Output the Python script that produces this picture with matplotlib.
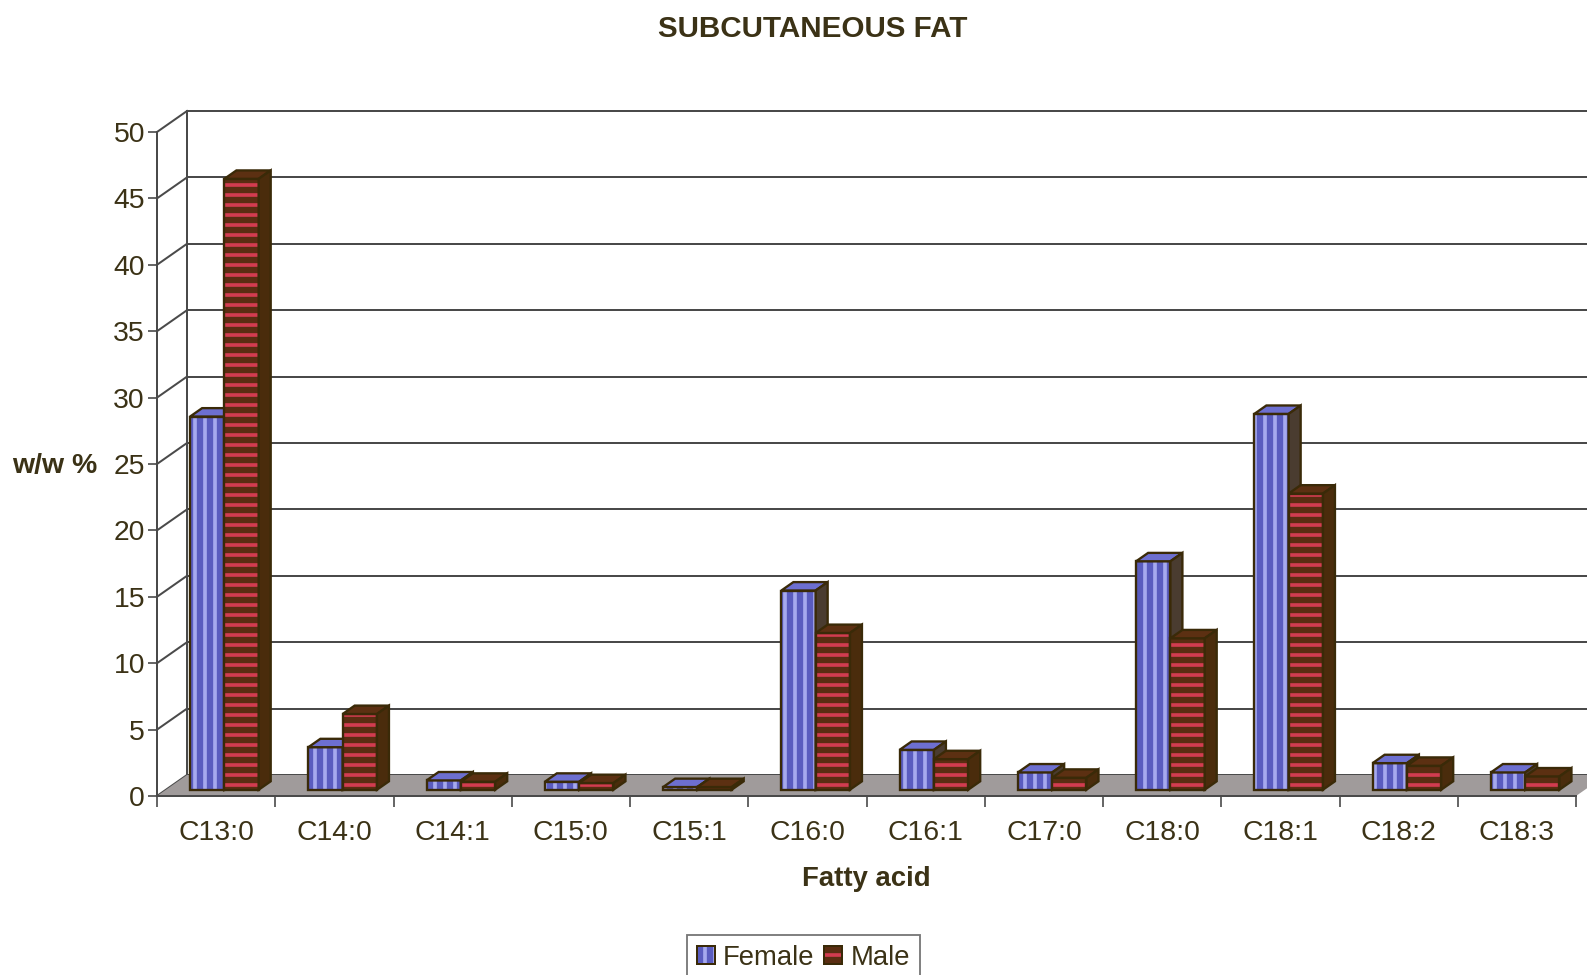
import matplotlib
matplotlib.use("Agg")
import matplotlib.pyplot as plt
from matplotlib.patches import Polygon, Rectangle
from matplotlib.legend_handler import HandlerTuple

# ---- data -------------------------------------------------------------
categories = ["C13:0", "C14:0", "C14:1", "C15:0", "C15:1", "C16:0",
              "C16:1", "C17:0", "C18:0", "C18:1", "C18:2", "C18:3"]
female = [28.1, 3.2, 0.7, 0.6, 0.2, 15.0, 3.0, 1.3, 17.2, 28.3, 2.0, 1.3]
male = [46.0, 5.7, 0.6, 0.5, 0.2, 11.8, 2.3, 0.9, 11.4, 22.3, 1.8, 1.0]
y_ticks = [0, 5, 10, 15, 20, 25, 30, 35, 40, 45, 50]
series_names = ["Female", "Male"]
title_text = "SUBCUTANEOUS FAT"
x_title = "Fatty acid"
y_title = "w/w %"

# ---- style ------------------------------------------------------------
DPI = 120
W_PX, H_PX = 1587, 975
TEXT = "#3b3216"
GRID = "#4a4a4a"
FLOOR = "#a09b9b"
OUTLINE = "#3a2a08"
F_FACE, F_HATCH, F_TOP, F_SIDE = "#5a5cbf", "#a6a9ee", "#6d6fd0", "#4a3c30"
M_FACE, M_HATCH, M_TOP, M_SIDE = "#5a2d12", "#d23c50", "#5c3012", "#4a2c0c"

plt.rcParams["font.family"] = ["Liberation Sans", "DejaVu Sans"]
plt.rcParams["hatch.linewidth"] = 2.2

fig = plt.figure(figsize=(W_PX / DPI, H_PX / DPI), dpi=DPI)
fig.patch.set_facecolor("white")

# front plane of the 3-D box
ax_left, ax_right = 157, 1576
ax_bottom, ax_top = 796, 132
ax = fig.add_axes([ax_left / W_PX, 1 - ax_bottom / H_PX,
                   (ax_right - ax_left) / W_PX, (ax_bottom - ax_top) / H_PX])
ax.set_facecolor("none")
n = len(categories)
ymax = y_ticks[-1]
ax.set_xlim(0, n)
ax.set_ylim(0, ymax)

# depth vector of the box (pixels -> data units)
depth_px = (30, 21)
DX = depth_px[0] * n / (ax_right - ax_left)
DY = depth_px[1] * ymax / (ax_bottom - ax_top)

# floor
ax.add_patch(Polygon([(0, 0), (n, 0), (n + DX, DY), (DX, DY)], closed=True,
                     facecolor=FLOOR, edgecolor="none", zorder=1, clip_on=False))

# back wall gridlines, left wall diagonals
for v in y_ticks:
    ax.plot([DX, n + DX + 1], [v + DY, v + DY], color=GRID, lw=1.2,
            zorder=0.5, clip_on=False)
    ax.plot([0, DX], [v, v + DY], color=GRID, lw=1.2, zorder=0.5, clip_on=False)
ax.plot([DX, DX], [DY, ymax + DY], color=GRID, lw=1.2, zorder=0.5, clip_on=False)

# bars
front_f, bar_depth = 0.3, 0.4
bar_w = 0.29
ox, oy = front_f * DX, front_f * DY
dx, dy = bar_depth * DX, bar_depth * DY
centers = [i + 0.5 for i in range(n)]

z = 2
for i, c in enumerate(centers):
    for s, (vals, face, hatch_c, hatch, top_c, side_c) in enumerate([
            (female, F_FACE, F_HATCH, "||", F_TOP, F_SIDE),
            (male, M_FACE, M_HATCH, "--", M_TOP, M_SIDE)]):
        v = vals[i]
        x0 = c + ox - bar_w + s * bar_w - 0.006
        x1 = x0 + bar_w
        b = oy
        t = oy + v
        ax.bar(x0, v, width=bar_w, bottom=b, align="edge", color=face,
               edgecolor=hatch_c, hatch=hatch, linewidth=0, zorder=z, clip_on=False)
        ax.bar(x0, v, width=bar_w, bottom=b, align="edge", fill=False,
               edgecolor=OUTLINE, linewidth=1.4, zorder=z + 0.1, clip_on=False)
        ax.add_patch(Polygon([(x0, t), (x1, t), (x1 + dx, t + dy), (x0 + dx, t + dy)],
                             closed=True, facecolor=top_c, edgecolor=OUTLINE,
                             linewidth=1.4, zorder=z + 0.2, clip_on=False))
        ax.add_patch(Polygon([(x1, b), (x1, t), (x1 + dx, t + dy), (x1 + dx, b + dy)],
                             closed=True, facecolor=side_c, edgecolor=OUTLINE,
                             linewidth=1.4, zorder=z + 0.2, clip_on=False))
        z += 1

# axes, ticks and labels
for sp in ["top", "right"]:
    ax.spines[sp].set_visible(False)
for sp in ["left", "bottom"]:
    ax.spines[sp].set_color(GRID)
    ax.spines[sp].set_linewidth(1.2)
    ax.spines[sp].set_zorder(50)

ax.set_yticks(y_ticks)
ax.set_yticklabels([str(v) for v in y_ticks])
ax.tick_params(axis="y", direction="out", length=5.4, width=1.0, color=GRID,
               pad=1.8, labelsize=17, labelcolor=TEXT)
ax.set_xticks(range(n + 1))
ax.set_xticklabels([""] * (n + 1))
ax.set_xticks(centers, minor=True)
ax.set_xticklabels(categories, minor=True)
ax.tick_params(axis="x", which="major", direction="out", length=6.6, width=1.0,
               color=GRID)
ax.tick_params(axis="x", which="minor", length=0, pad=14.5, labelsize=17,
               labelcolor=TEXT)

ax.set_ylabel(y_title, rotation=0, fontsize=17, fontweight="bold", color=TEXT,
              ha="left", va="center")
ax.yaxis.set_label_coords((12 - ax_left) / (ax_right - ax_left),
                          (ax_bottom - 466) / (ax_bottom - ax_top))
ax.set_xlabel(x_title, fontsize=16.5, fontweight="bold", color=TEXT,
              va="center")
ax.xaxis.set_label_coords((866 - ax_left) / (ax_right - ax_left),
                          (ax_bottom - 879) / (ax_bottom - ax_top))

fig.text(813 / W_PX, 1 - 29 / H_PX, title_text, ha="center", va="center",
         fontsize=17.8, fontweight="bold", color=TEXT)

# legend: hatched swatch with a dark outline on top
def swatch(face, hatch_c, hatch):
    fill = Rectangle((0, 0), 1, 1, facecolor=face, edgecolor=hatch_c,
                     hatch=hatch, linewidth=0)
    edge = Rectangle((0, 0), 1, 1, fill=False, edgecolor=OUTLINE, linewidth=1.2)
    return (fill, edge)

handles = [swatch(F_FACE, F_HATCH, "||"), swatch(M_FACE, M_HATCH, "--")]
leg = fig.legend(handles, series_names, loc="upper center",
                 bbox_to_anchor=(803.5 / W_PX, 1 - 935 / H_PX), ncol=2,
                 fontsize=16.5, frameon=True, fancybox=False, edgecolor="#555555",
                 handlelength=0.65, handleheight=0.65, handletextpad=0.3,
                 columnspacing=0.35, borderpad=0.35, borderaxespad=0,
                 handler_map={tuple: HandlerTuple(ndivide=1, pad=0)})
leg.get_frame().set_linewidth(1.1)
for txt in leg.get_texts():
    txt.set_color(TEXT)

fig.savefig("out.png", dpi=DPI)
